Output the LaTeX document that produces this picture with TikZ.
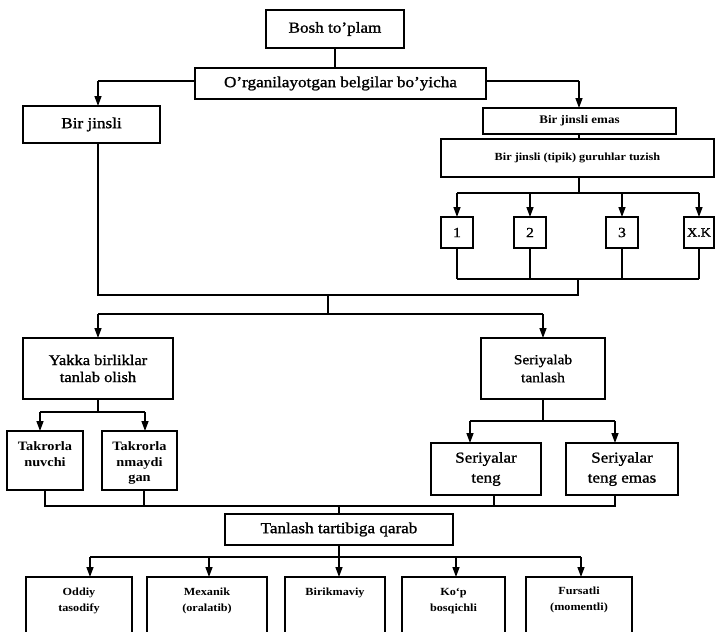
\documentclass[tikz,border=0pt]{standalone}
\usepackage{fontspec}
\setmainfont{Liberation Serif}[FakeStretch=1.12, UprightFeatures={FakeBold=1.2}]
\usetikzlibrary{arrows.meta}
\newcommand\toptxt[4]{\parbox[c][#2pt][t]{#1pt}{\centering\vspace*{#3pt}\strut#4\par}}
\tikzset{
  x=1pt, y=-1pt,
  box/.style={draw, line width=1.4pt, inner sep=0pt, outer sep=0pt, anchor=north west},
  cbox/.style={box, align=center},
  ln/.style={line width=1.4pt},
  arr/.style={line width=1.4pt, -{Triangle[length=10pt,width=7pt]}},
  fbig/.style={font=\fontsize{15.3}{18}\selectfont},
  fyak/.style={font=\fontsize{14.7}{17}\selectfont},
  fserb/.style={font=\fontsize{13.8}{18}\selectfont},
  fseri/.style={font=\fontsize{15.2}{20}\selectfont},
  femas/.style={font=\bfseries\fontsize{11.6}{14}\selectfont},
  ftip/.style={font=\bfseries\fontsize{10.9}{13}\selectfont},
  fdig/.style={font=\fontsize{14}{16}\selectfont},
  fxk/.style={font=\fontsize{12.5}{15}\selectfont},
  ftak/.style={font=\bfseries\fontsize{12.8}{15.5}\selectfont},
  fbot/.style={font=\bfseries\fontsize{10.9}{16}\selectfont}
}
\begin{document}
\begin{tikzpicture}
\useasboundingbox (0,0) rectangle (716,632);
\clip (0,0) rectangle (716,632);
\fill[white] (0,0) rectangle (716,632);

% boxes
\node[cbox, fbig, minimum width=138pt, minimum height=38pt] (bosh) at (266,10) {Bosh to'plam};
\node[cbox, fbig, minimum width=291pt, minimum height=31pt] (org) at (195,68) {O'rganilayotgan belgilar bo'yicha};
\node[cbox, fbig, minimum width=137pt, minimum height=37pt] (bj) at (23,106) {Bir jinsli};
\node[cbox, femas, minimum width=193pt, minimum height=26pt] (emas) at (483,108) {Bir jinsli emas};
\node[cbox, ftip, minimum width=273pt, minimum height=38pt] (tip) at (441,139) {Bir jinsli (tipik) guruhlar tuzish};
\node[cbox, fdig, minimum width=32pt, minimum height=31pt] (b1) at (441,217) {1};
\node[cbox, fdig, minimum width=32pt, minimum height=31pt] (b2) at (514,217) {2};
\node[cbox, fdig, minimum width=32pt, minimum height=31pt] (b3) at (606,217) {3};
\node[cbox, fxk, minimum width=30pt, minimum height=31pt] (bxk) at (684,217) {X.K};
\node[cbox, fyak, minimum width=150pt, minimum height=61pt] (yak) at (23,338) {Yakka birliklar\\tanlab olish};
\node[cbox, fserb, minimum width=124pt, minimum height=61pt] (ser) at (481,338) {Seriyalab\\tanlash};
\node[box, ftak] (tA) at (7,431) {\toptxt{76}{59}{9}{Takrorla\\nuvchi}};
\node[box, ftak] (tB) at (102,431) {\toptxt{75}{59}{9}{Takrorla\\nmaydi\\gan}};
\node[cbox, fseri, minimum width=110pt, minimum height=52pt] (sA) at (431,443) {Seriyalar\\teng};
\node[cbox, fseri, minimum width=112pt, minimum height=52pt] (sB) at (566,443) {Seriyalar\\teng emas};
\node[cbox, fbig, minimum width=228pt, minimum height=31pt] (tan) at (225,514) {Tanlash tartibiga qarab};
\node[box, fbot] (o1) at (26,577) {\toptxt{106}{70}{7}{Oddiy\\tasodify}};
\node[box, fbot] (o2) at (147,577) {\toptxt{120}{70}{7}{Mexanik\\(oralatib)}};
\node[box, fbot] (o3) at (285,577) {\toptxt{100}{70}{7}{Birikmaviy}};
\node[box, fbot] (o4) at (402,577) {\toptxt{103}{70}{7}{Ko`p\\bosqichli}};
\node[box, fbot] (o5) at (526,577) {\toptxt{106}{70}{6}{Fursatli\\(momentli)}};

% junction coordinates
\coordinate (jL) at (98,81);
\coordinate (jR) at (579,81);
\coordinate (g1) at (579,193);
\coordinate (g2) at (578,279);
\coordinate (g3) at (578,295);
\coordinate (g4) at (328,295);
\coordinate (g5) at (328,314);
\coordinate (g6) at (543,314);
\coordinate (ha) at (40,412);
\coordinate (hb) at (145,412);
\coordinate (s1) at (470,421);
\coordinate (s2) at (615,421);
\coordinate (m1) at (45,506);
\coordinate (m2) at (615,506);
\coordinate (m3) at (144,506);
\coordinate (m4) at (494,506);
\coordinate (m5) at (339,506);
\coordinate (p1) at (90,557);
\coordinate (p2) at (209,557);
\coordinate (p3) at (339,557);
\coordinate (p4) at (456,557);
\coordinate (p5) at (581,557);

% top part
\draw[ln] (bosh.south) -- (bosh.south |- org.north);
\draw[ln] (org.west |- jL) -- (jL);
\draw[arr] (jL) -- (jL |- bj.north);
\draw[ln] (org.east |- jR) -- (jR);
\draw[arr] (jR) -- (jR |- emas.north);
\draw[ln] (jR |- emas.south) -- (jR |- tip.north);
\draw[ln] (g1 |- tip.south) -- (g1);
\draw[ln] (b1.north |- g1) -- (bxk.north |- g1);
\foreach \b in {b1,b2,b3,bxk}{
  \draw[arr] (\b.north |- g1) -- (\b.north);
  \draw[ln] (\b.south) -- (\b.south |- g2);
}
\draw[ln] (b1.south |- g2) -- (bxk.south |- g2);
\draw[ln] (jL |- bj.south) -- (jL |- g3) -- (g3) -- (g2);
\draw[ln] (g4) -- (g5);
\draw[ln] (jL |- g5) -- (g6);
\draw[arr] (jL |- g5) -- (jL |- yak.north);
\draw[arr] (g6) -- (g6 |- ser.north);

% Yakka branch
\draw[ln] (yak.south) -- (yak.south |- ha);
\draw[ln] (ha) -- (hb);
\draw[arr] (ha) -- (ha |- tA.north);
\draw[arr] (hb) -- (hb |- tB.north);

% Seriyalab branch
\draw[ln] (ser.south) -- (ser.south |- s1);
\draw[ln] (s1) -- (s2);
\draw[arr] (s1) -- (s1 |- sA.north);
\draw[arr] (s2) -- (s2 |- sB.north);

% joining bus
\draw[ln] (m1 |- tA.south) -- (m1) -- (m2) -- (m2 |- sB.south);
\draw[ln] (m3 |- tB.south) -- (m3);
\draw[ln] (m4 |- sA.south) -- (m4);
\draw[ln] (m5) -- (m5 |- tan.north);

% bottom
\draw[ln] (tan.south) -- (tan.south |- p1);
\draw[ln] (p1) -- (p5);
\draw[arr] (p1) -- (p1 |- o1.north);
\draw[arr] (p2) -- (p2 |- o2.north);
\draw[arr] (p3) -- (p3 |- o3.north);
\draw[arr] (p4) -- (p4 |- o4.north);
\draw[arr] (p5) -- (p5 |- o5.north);
\end{tikzpicture}
\end{document}
